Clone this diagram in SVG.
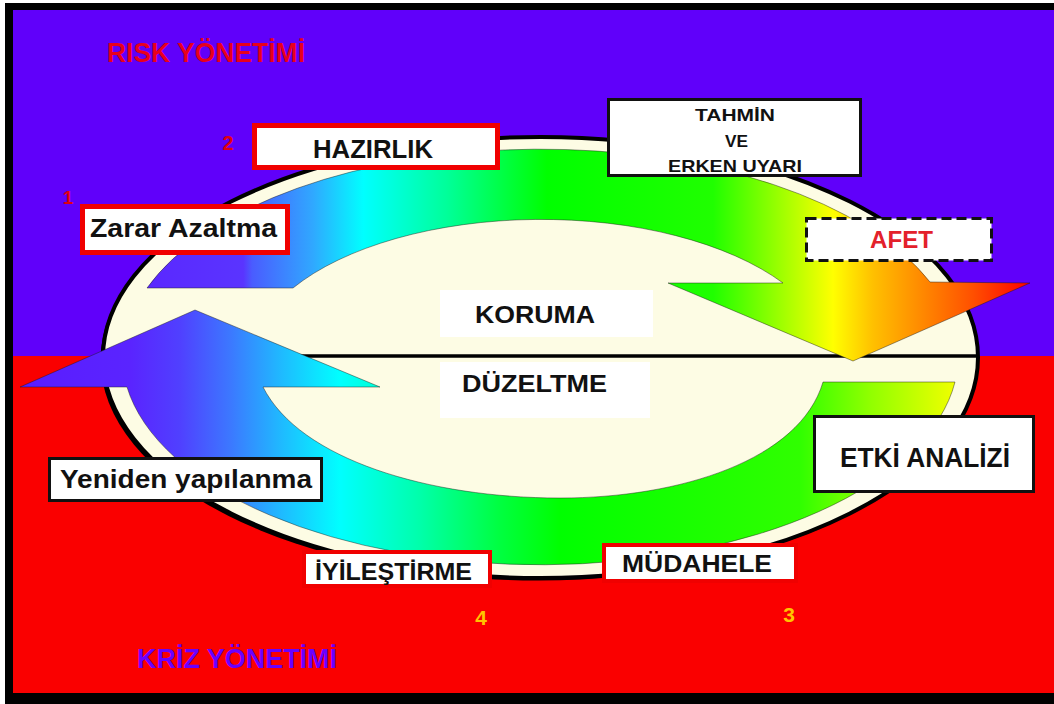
<svg xmlns="http://www.w3.org/2000/svg" width="1054" height="704" viewBox="0 0 1054 704">
<style>
.lbl{font-family:"Liberation Sans",Arial,sans-serif;font-weight:bold;fill:#111;text-anchor:middle}
.num{font-family:"Liberation Sans",Arial,sans-serif;font-weight:bold;text-anchor:middle}
.redbox{fill:#fff;stroke:#f00000}
.blkbox{fill:#fff;stroke:#111;stroke-width:3}
.arrow{stroke:#1a1a1a;stroke-opacity:0.45;stroke-width:1}
</style>
<defs>
<linearGradient id="gTop" gradientUnits="userSpaceOnUse" x1="147" y1="0" x2="1030" y2="0">
<stop offset="0" stop-color="#5a28ff"/>
<stop offset="0.109" stop-color="#5a34ff"/>
<stop offset="0.119" stop-color="#4a5cff"/>
<stop offset="0.188" stop-color="#30a8ff"/>
<stop offset="0.245" stop-color="#00ffff"/>
<stop offset="0.340" stop-color="#00ff99"/>
<stop offset="0.453" stop-color="#00ff00"/>
<stop offset="0.641" stop-color="#20ff00"/>
<stop offset="0.777" stop-color="#ffff00"/>
<stop offset="0.822" stop-color="#ffc000"/>
<stop offset="0.935" stop-color="#ff5000"/>
<stop offset="1" stop-color="#ff0000"/>
</linearGradient>
<linearGradient id="gBot" gradientUnits="userSpaceOnUse" x1="20" y1="0" x2="955" y2="0">
<stop offset="0" stop-color="#5a1cff"/>
<stop offset="0.118" stop-color="#5a24ff"/>
<stop offset="0.171" stop-color="#5040ff"/>
<stop offset="0.225" stop-color="#3c78ff"/>
<stop offset="0.278" stop-color="#20b8ff"/>
<stop offset="0.342" stop-color="#00ffff"/>
<stop offset="0.428" stop-color="#00ffaa"/>
<stop offset="0.513" stop-color="#00ff40"/>
<stop offset="0.578" stop-color="#00ff00"/>
<stop offset="0.834" stop-color="#30ff00"/>
<stop offset="0.909" stop-color="#90ff00"/>
<stop offset="1" stop-color="#f0ff00"/>
</linearGradient>
</defs>

<g id="background">
<rect x="0" y="0" width="1054" height="704" fill="#fff"/>
<rect x="5" y="3" width="1049" height="353" fill="#6000fa"/>
<rect x="5" y="356" width="1049" height="348" fill="#fa0000"/>
<rect x="5" y="3" width="1049" height="7" fill="#000"/>
<rect x="5" y="3" width="8" height="701" fill="#000"/>
<rect x="5" y="693" width="1049" height="11" fill="#000"/>
</g>

<g id="titles">
<text class="num" x="206" y="62" font-size="27" fill="#e8001c" textLength="198" lengthAdjust="spacingAndGlyphs">RISK YÖNETİMİ</text>
<text class="num" x="237" y="668" font-size="27" fill="#6a00ff" textLength="200" lengthAdjust="spacingAndGlyphs">KRİZ YÖNETİMİ</text>
</g>

<g id="cycle">
<ellipse cx="538" cy="360" rx="437.5" ry="220.5" fill="#000"/>
<ellipse cx="540.5" cy="357.5" rx="437.5" ry="220.5" fill="#fdfce4" stroke="#000" stroke-width="4"/>
<line x1="104" y1="356" x2="977" y2="356" stroke="#000" stroke-width="3.5"/>
<rect x="440" y="290" width="213" height="47" fill="#fff"/>
<rect x="440" y="362" width="210" height="56" fill="#fff"/>
</g>

<g id="connectors">
<path id="arrow-top" class="arrow" fill="url(#gTop)" d="M 147,288 A 418 209 0 0 1 930,282 L 1030,283 L 853,361 L 668,283 L 783,283 A 290 142 0 0 0 293,288 Z"/>
<path id="arrow-bottom" class="arrow" fill="url(#gBot)" d="M 955,382 A 418 209 0 0 1 127,387 L 20,387 L 195,310 L 380,387 L 263,387 C 300,460 430,498 560,498 C 680,498 800,460 823,382 Z"/>
</g>

<g id="koruma">
<text class="lbl" x="535" y="323" font-size="24" textLength="120" lengthAdjust="spacingAndGlyphs">KORUMA</text>
</g>
<g id="duzeltme">
<text class="lbl" x="534.5" y="392" font-size="24" textLength="145" lengthAdjust="spacingAndGlyphs">DÜZELTME</text>
</g>

<g id="hazirlik">
<rect class="redbox" x="254.5" y="125.5" width="243" height="42" stroke-width="5"/>
<text class="lbl" x="373" y="158" font-size="26" textLength="120" lengthAdjust="spacingAndGlyphs">HAZIRLIK</text>
</g>
<g id="zarar-azaltma">
<rect class="redbox" x="82.5" y="206.5" width="205" height="46" stroke-width="5"/>
<text class="lbl" x="183.5" y="237" font-size="26" textLength="187" lengthAdjust="spacingAndGlyphs">Zarar Azaltma</text>
</g>
<g id="tahmin">
<rect class="blkbox" x="608.5" y="99.5" width="252" height="76"/>
<text class="lbl" x="735" y="121" font-size="17" textLength="80" lengthAdjust="spacingAndGlyphs">TAHMİN</text>
<text class="lbl" x="736.5" y="147" font-size="17" textLength="23" lengthAdjust="spacingAndGlyphs">VE</text>
<text class="lbl" x="735" y="172" font-size="17" textLength="134" lengthAdjust="spacingAndGlyphs">ERKEN UYARI</text>
</g>
<g id="afet">
<rect x="806.5" y="218.5" width="185" height="42" fill="#fff" stroke="#111" stroke-width="3" stroke-dasharray="10 5"/>
<text class="num" x="901.5" y="248" font-size="24" fill="#e3212b" textLength="63" lengthAdjust="spacingAndGlyphs">AFET</text>
</g>
<g id="etki-analizi">
<rect class="blkbox" x="814.5" y="416.5" width="219" height="75"/>
<text class="lbl" x="925" y="467" font-size="27" textLength="170" lengthAdjust="spacingAndGlyphs">ETKİ ANALİZİ</text>
</g>
<g id="yeniden">
<rect class="blkbox" x="49.5" y="458.5" width="272" height="42"/>
<text class="lbl" x="186" y="488" font-size="26" textLength="252" lengthAdjust="spacingAndGlyphs">Yeniden yapılanma</text>
</g>
<g id="iyilestirme">
<rect class="redbox" x="304" y="552" width="186" height="34" stroke-width="4"/>
<text class="lbl" x="393.5" y="580" font-size="24" textLength="157" lengthAdjust="spacingAndGlyphs">İYİLEŞTİRME</text>
</g>
<g id="mudahele">
<rect class="redbox" x="604" y="545" width="192" height="36" stroke-width="4"/>
<text class="lbl" x="697" y="572" font-size="24" textLength="150" lengthAdjust="spacingAndGlyphs">MÜDAHELE</text>
</g>

<g id="numbers">
<text class="num" x="68" y="204" font-size="19" fill="#e00010">1</text>
<text class="num" x="228" y="150" font-size="20" fill="#e00010">2</text>
<text class="num" x="789" y="622" font-size="21" fill="#ffc400">3</text>
<text class="num" x="481" y="625" font-size="21" fill="#ffc400">4</text>
</g>
</svg>
